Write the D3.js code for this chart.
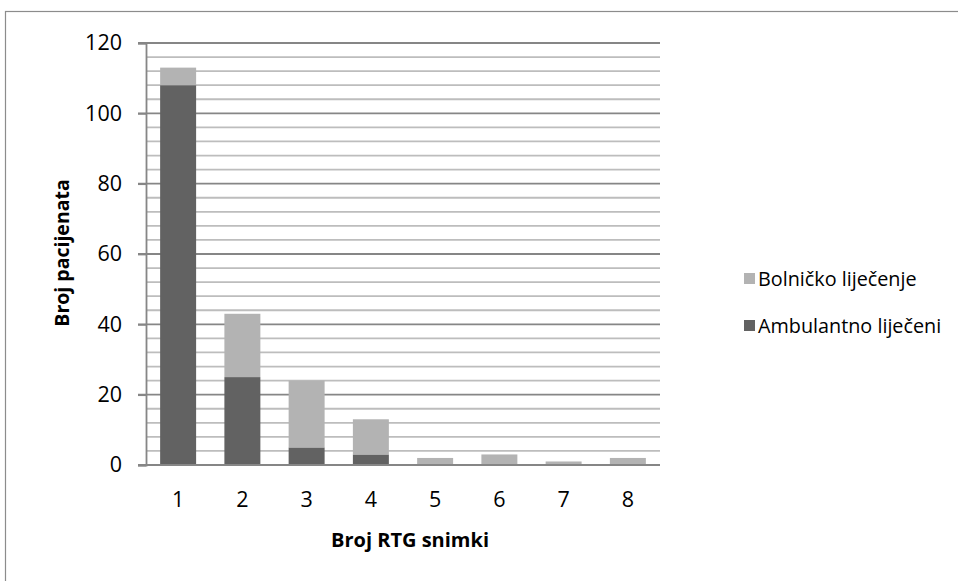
<!DOCTYPE html>
<html><head><meta charset="utf-8">
<script src="https://cdn.jsdelivr.net/npm/d3@7"></script>
<style>body{margin:0;background:#fff}svg{display:block}text{font-family:"Open Sans","Liberation Sans",sans-serif}</style>
</head><body>
<svg id="c" width="958" height="581"></svg>
<script>
const categories = ["1","2","3","4","5","6","7","8"];
const ambulantno = [108,25,5,3,0,0,0,0];
const bolnicko = [5,18,19,10,2,3,1,2];
const seriesNames = ["Ambulantno liječeni","Bolničko liječenje"];
const yTicks = [0,20,40,60,80,100,120];
const colors = ["#626262","#b3b3b3"];

const svg = d3.select("#c");
svg.append("rect").attr("x",5.5).attr("y",11.5).attr("width",960).attr("height",600)
  .attr("fill","#fff").attr("stroke","#8c8c8c").attr("stroke-width",1.2);

const m = {l:146, r:660, t:43, b:465};
const x = d3.scaleBand().domain(categories).range([m.l,m.r]).paddingInner(0.44).paddingOuter(0.22);
const y = d3.scaleLinear().domain([0,120]).range([m.b,m.t]);

// minor gridlines
const minor = d3.range(0,121,4).filter(v=>v%20!==0);
svg.append("g").selectAll("line").data(minor).join("line")
  .attr("x1",m.l).attr("x2",m.r).attr("y1",d=>y(d)).attr("y2",d=>y(d))
  .attr("stroke","#bdbdbd").attr("stroke-width",1.8);
// major gridlines
svg.append("g").selectAll("line").data(yTicks.filter(v=>v>0)).join("line")
  .attr("x1",m.l-8).attr("x2",m.r).attr("y1",d=>y(d)).attr("y2",d=>y(d))
  .attr("stroke","#868686").attr("stroke-width",1.8);

// bars
const data = categories.map((c,i)=>({c, a:ambulantno[i], b:bolnicko[i]}));
const stack = d3.stack().keys(["a","b"])(data);
svg.append("g").selectAll("g").data(stack).join("g").attr("fill",(d,i)=>colors[i])
  .selectAll("rect").data(d=>d).join("rect")
  .attr("x",d=>x(d.data.c)).attr("width",x.bandwidth())
  .attr("y",d=>y(d[1])).attr("height",d=>y(d[0])-y(d[1]));

// axes
const yAxis = d3.axisLeft(y).tickValues(yTicks).tickSize(8).tickPadding(16);
const gy = svg.append("g").attr("transform",`translate(${m.l},0)`).call(yAxis);
gy.select(".domain").attr("stroke","#868686").attr("stroke-width",1.8);
gy.selectAll(".tick line").attr("stroke","#868686").attr("stroke-width",1.8);
gy.selectAll("text").attr("font-size",21.5).attr("fill","#000");

const xAxis = d3.axisBottom(x).tickSize(0).tickPadding(27);
const gx = svg.append("g").attr("transform",`translate(0,${m.b})`).call(xAxis);
gx.select(".domain").remove();
gx.selectAll("text").attr("font-size",21.5).attr("fill","#000");
svg.append("line").attr("x1",m.l-8).attr("x2",m.r).attr("y1",m.b).attr("y2",m.b)
  .attr("stroke","#868686").attr("stroke-width",2);

// titles
svg.append("text").attr("x",410).attr("y",547).attr("text-anchor","middle")
  .attr("font-size",20).attr("font-weight","bold").text("Broj RTG snimki");
svg.append("text").attr("transform","translate(69,253) rotate(-90)").attr("text-anchor","middle")
  .attr("font-size",19.5).attr("font-weight","bold").text("Broj pacijenata");

// legend
const leg = [{n:seriesNames[1],c:colors[1],y:279},{n:seriesNames[0],c:colors[0],y:326}];
const lg = svg.append("g").selectAll("g").data(leg).join("g");
lg.append("rect").attr("x",744).attr("y",d=>d.y-6).attr("width",11).attr("height",11).attr("fill",d=>d.c);
lg.append("text").attr("x",758).attr("y",d=>d.y+7).attr("font-size",19.8).text(d=>d.n);
</script>
</body></html>
